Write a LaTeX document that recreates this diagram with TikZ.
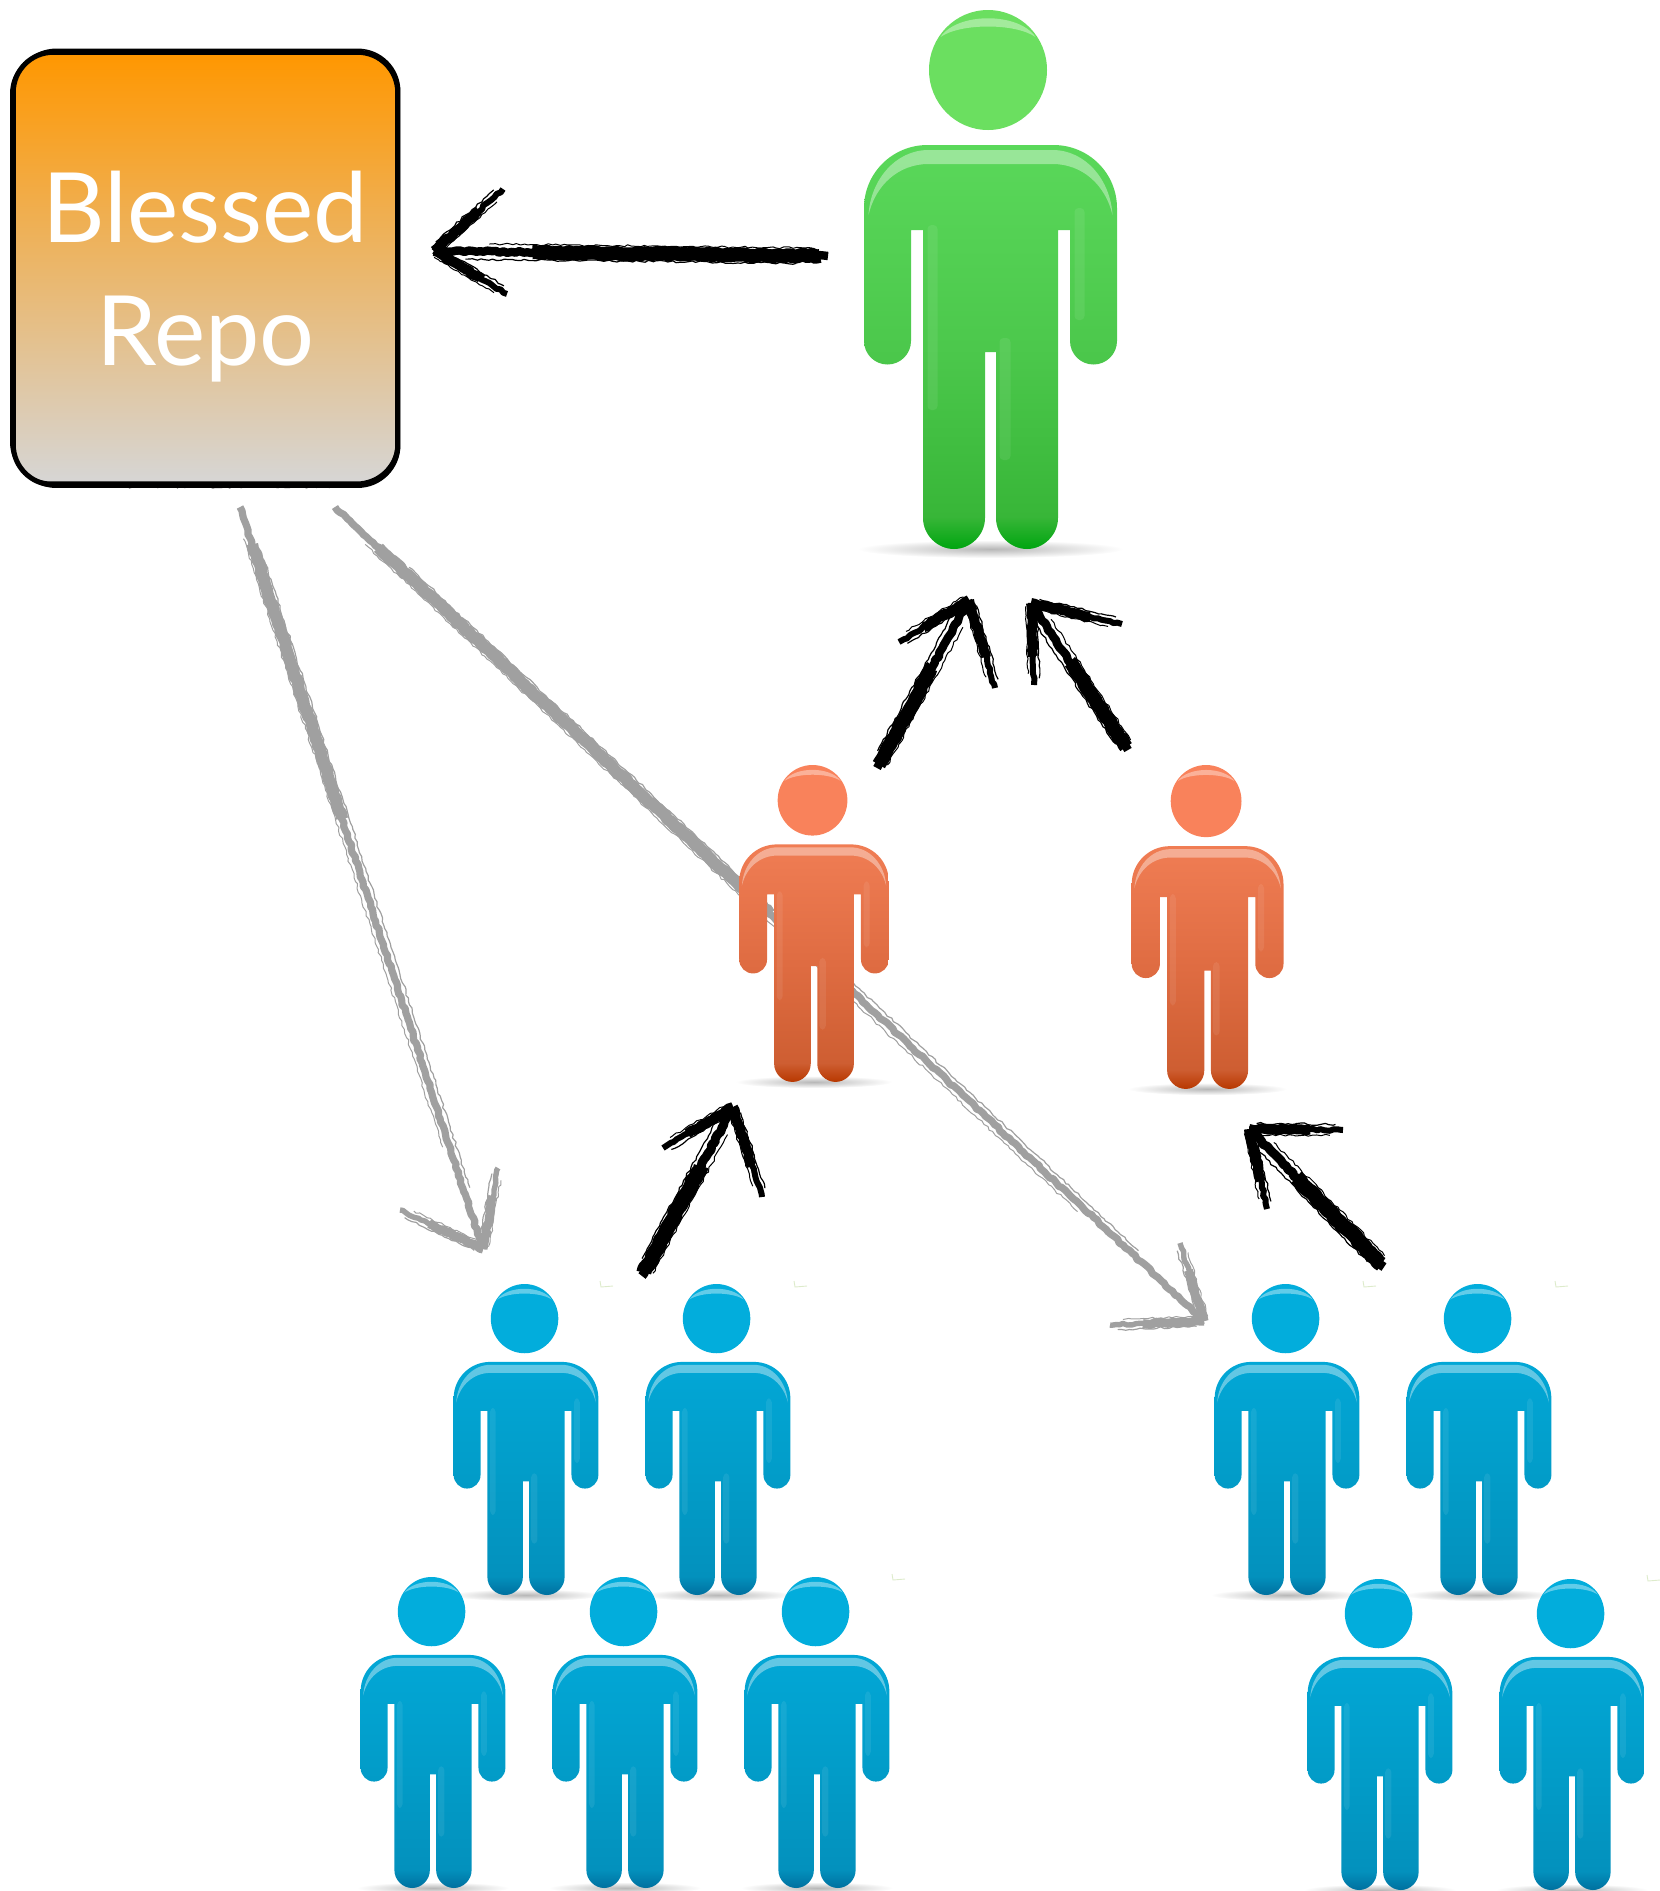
\documentclass[tikz,border=0pt]{standalone}
\usepackage{fontspec}
\setmainfont{Lato}
\usetikzlibrary{calc,decorations.pathmorphing}
\definecolor{ghead}{HTML}{6BDF60}\definecolor{gtop}{HTML}{5AD85A}\definecolor{gmid}{HTML}{4CC84C}\definecolor{glow}{HTML}{38B638}\definecolor{gfoot}{HTML}{00A510}
\definecolor{ohead}{HTML}{F9825B}\definecolor{otop}{HTML}{F07D54}\definecolor{omid}{HTML}{DF6C42}\definecolor{olow}{HTML}{CE5E32}\definecolor{ofoot}{HTML}{B83800}
\definecolor{bhead}{HTML}{02ADDC}\definecolor{btop}{HTML}{02A7D6}\definecolor{bmid}{HTML}{029CC8}\definecolor{blow}{HTML}{0391BD}\definecolor{bfoot}{HTML}{00709F}
\definecolor{brushgray}{HTML}{A0A0A0}\definecolor{repotop}{HTML}{FF9700}\definecolor{repomid}{HTML}{EBB27A}\definecolor{repobot}{HTML}{D6D6D6}\definecolor{tickcol}{HTML}{DDEBCB}
\pgfdeclareverticalshading{gbody}{100bp}{color(0bp)=(gfoot);color(25bp)=(gfoot);color(29bp)=(glow);color(50bp)=(gmid);color(75bp)=(gtop);color(100bp)=(gtop)}
\pgfdeclareverticalshading{obody}{100bp}{color(0bp)=(ofoot);color(25bp)=(ofoot);color(29bp)=(olow);color(50bp)=(omid);color(75bp)=(otop);color(100bp)=(otop)}
\pgfdeclareverticalshading{bbody}{100bp}{color(0bp)=(bfoot);color(25bp)=(bfoot);color(29bp)=(blow);color(50bp)=(bmid);color(75bp)=(btop);color(100bp)=(btop)}
\tikzset{
  rough/.style={decorate,decoration={random steps,segment length=4pt,amplitude=1.1pt},line join=round},
  edgeink/.style={draw=black},
  gloss/.style={fill=white,opacity=.38},
  streak/.style={fill=white,opacity=.08},
  tickmark/.style={draw=tickcol,line width=.9pt},
  footshade/.style={inner color=black!28,outer color=white}
}
% #1 name #2 cx #3 top #4 xscale #5 yscale #6 palette
\newcommand\person[6]{%
  \coordinate (#1) at (#2,#3);
  \shade[footshade] (#2,{#3+539*#5}) ellipse [x radius={133*#4},y radius={7*#5+2}];
  \begin{scope}[shift={(#2,#3)},xscale=#4,yscale=#5]
    \fill[#6head] (-2.5,60) ellipse [x radius=59,y radius=60];
    \fill[gloss] (-50,27) .. controls (-33,2) and (28,2) .. (45,27) .. controls (25,13) and (-30,13) .. (-50,27) -- cycle;
    \shade[shading=#6body] (-63,135) -- (63,135) .. controls (98,135) and (126.5,163) .. (126.5,198)
      -- (126.5,331) .. controls (126.5,344) and (116,354.5) .. (103,354.5) .. controls (90,354.5) and (79.5,344) .. (79.5,331)
      -- (79.5,220) -- (67.5,220) -- (67.5,508) .. controls (67.5,525) and (53,539) .. (36.5,539) .. controls (20,539) and (5.5,525) .. (5.5,508)
      -- (5.5,342) -- (-5.5,342) -- (-5.5,508) .. controls (-5.5,525) and (-20,539) .. (-36.5,539) .. controls (-53,539) and (-67.5,525) .. (-67.5,508)
      -- (-67.5,220) -- (-79.5,220) -- (-79.5,331) .. controls (-79.5,344) and (-90,354.5) .. (-103,354.5) .. controls (-116,354.5) and (-126.5,344) .. (-126.5,331)
      -- (-126.5,198) .. controls (-126.5,163) and (-98,135) .. (-63,135) -- cycle;
    \fill[gloss] (-122,205) .. controls (-120,170) and (-95,140) .. (-62,140) -- (62,140) .. controls (95,140) and (120,170) .. (122,205)
      .. controls (115,175) and (92,154) .. (62,154) -- (-62,154) .. controls (-92,154) and (-115,175) .. (-122,205) -- cycle;
    \fill[streak,rounded corners=4] (-63,215) rectangle (-53,400);
    \fill[streak,rounded corners=4] (84,198) rectangle (94,310);
    \fill[streak,rounded corners=4] (9,328) rectangle (20,450);
  \end{scope}}
% #1 colour #2 from #3 to #4 width #5 #6 heavy part of the stroke
\newcommand\brush[6]{%
  \pgfmathsetlengthmacro\brushoff{#4*.55}%
  \draw[rough,draw=#1,line width={#4*.6}] (#2) -- (#3);
  \draw[rough,draw=#1,line width={#4}] ($(#2)!#5!(#3)$) -- ($(#2)!#6!(#3)$);
  \draw[rough,draw=#1,line width=1.2] ($(#2)!.08!(#3)!\brushoff!90:(#3)$) -- ($(#2)!.92!(#3)!\brushoff!90:(#3)$);
  \draw[rough,draw=#1,line width=1] ($(#2)!.04!(#3)!\brushoff!-90:(#3)$) -- ($(#2)!.86!(#3)!\brushoff!-90:(#3)$);}
% #1 colour #2 tail #3 tip #4 barb #5 barb #6 shaft width #7 #8 heavy part, #9 barb width
\newcommand\sketcharrow[9]{%
  \brush{#1}{#2}{#3}{#6}{#7}{#8}
  \brush{#1}{#3}{#4}{#9}{0}{.65}
  \brush{#1}{#3}{#5}{#9}{0}{.65}}
\begin{document}
\begin{tikzpicture}[x=1pt,y=-1pt]
\useasboundingbox (0,0) rectangle (1660,1891);
\pgfmathsetseed{4242}
% gray connectors run behind the people
\coordinate (g1t) at (240,507); \coordinate (g1h) at (483,1249); \coordinate (g1a) at (498,1168); \coordinate (g1b) at (400,1210);
\coordinate (g2t) at (335,507); \coordinate (g2h) at (1204,1321); \coordinate (g2a) at (1180,1243); \coordinate (g2b) at (1110,1325);
\sketcharrow{brushgray}{g1t}{g1h}{g1a}{g1b}{12}{.05}{.42}{9}
\sketcharrow{brushgray}{g2t}{g2h}{g2a}{g2b}{12}{.05}{.5}{9}
% people
\person{lead}{990.5}{10}{1}{1}{g}
\person{orangeL}{814}{765}{.591}{.588}{o}
\person{orangeR}{1207.6}{765}{.6}{.601}{o}
\person{blueA}{526}{1284}{.572}{.577}{b}
\person{blueB}{718}{1284}{.572}{.577}{b}
\person{blueF}{1287}{1284}{.572}{.577}{b}
\person{blueG}{1479}{1284}{.572}{.577}{b}
\person{blueC}{433}{1577}{.572}{.577}{b}
\person{blueD}{625}{1577}{.572}{.577}{b}
\person{blueE}{817}{1577}{.572}{.577}{b}
\person{blueH}{1380}{1579}{.572}{.577}{b}
\person{blueI}{1572}{1579}{.572}{.577}{b}
% tiny pale marks
\foreach \mx/\my in {600/1281,794/1281,892/1574,1363/1281,1555/1281,1647/1575}
  \draw[tickmark] (\mx,\my) -- (\mx+1,\my+6) -- (\mx+13,\my+5);
% repository box
\node[rounded corners=40,minimum width=384pt,minimum height=432pt,inner sep=0pt,
      top color=repotop,middle color=repomid,bottom color=repobot] (repo) at (205.5,268.5) {};
\draw[edgeink,line width=5,rounded corners=40] (repo.north west) rectangle (repo.south east);
\draw[edgeink,line width=1.5,rounded corners=42] ($(repo.north west)+(1,-3)$) rectangle ($(repo.south east)+(2,2.5)$);
\draw[edgeink,line width=1.5,rounded corners=40] ($(repo.north west)+(-2.5,1)$) rectangle ($(repo.south east)+(-1,-2.5)$);
\draw[rough,draw=black,line width=2] ($(repo.north west)+(40,-1)$) -- ($(repo.north east)+(-40,-1)$);
\draw[rough,draw=black,line width=1.2] ($(repo.south west)+(40,2)$) -- ($(repo.south east)+(-40,2)$);
\node[text=white,align=center,font=\fontsize{97}{123}\selectfont,inner sep=0pt] (repolabel) at (205.5,277) {Blessed\\Repo};
% black connectors
\coordinate (a1t) at (828,256); \coordinate (a1h) at (434,251); \coordinate (a1a) at (503,189); \coordinate (a1b) at (507,294);
\coordinate (a2t) at (877,768); \coordinate (a2h) at (969,600); \coordinate (a2a) at (899,642); \coordinate (a2b) at (995,688);
\coordinate (a3t) at (1128,750); \coordinate (a3h) at (1031,603); \coordinate (a3a) at (1122,624); \coordinate (a3b) at (1034,685);
\coordinate (a4t) at (642,1276); \coordinate (a4h) at (733,1107); \coordinate (a4a) at (663,1148); \coordinate (a4b) at (762,1197);
\coordinate (a5t) at (1384,1267); \coordinate (a5h) at (1249,1129); \coordinate (a5a) at (1343,1130); \coordinate (a5b) at (1267,1209);
\sketcharrow{black}{a1t}{a1h}{a1a}{a1b}{14}{.02}{.75}{10}
\sketcharrow{black}{a2t}{a2h}{a2a}{a2b}{14}{.02}{.6}{10}
\sketcharrow{black}{a3t}{a3h}{a3a}{a3b}{14}{.02}{.6}{10}
\sketcharrow{black}{a4t}{a4h}{a4a}{a4b}{15}{.02}{.65}{10}
\sketcharrow{black}{a5t}{a5h}{a5a}{a5b}{15}{.02}{.65}{10}
\end{tikzpicture}
\end{document}
